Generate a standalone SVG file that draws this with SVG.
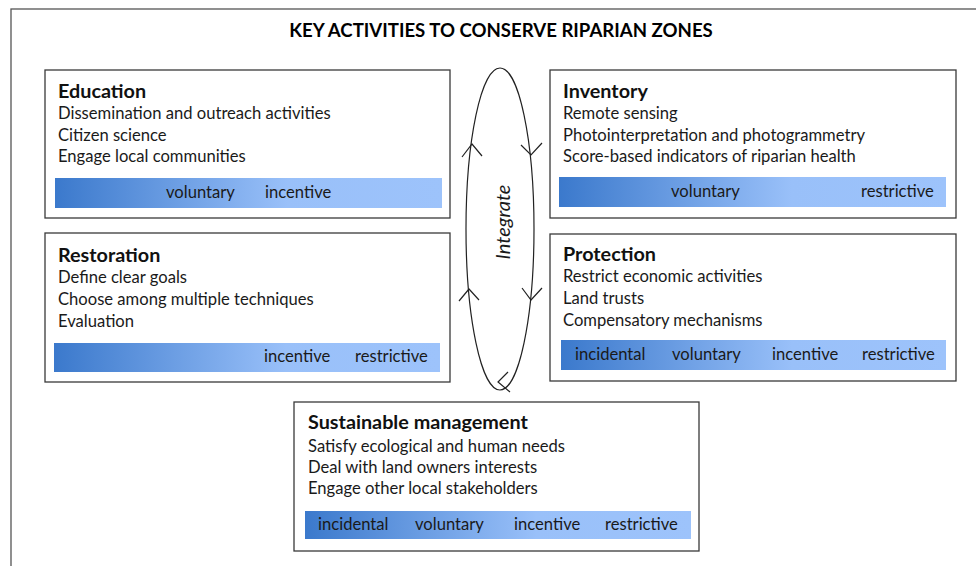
<svg xmlns="http://www.w3.org/2000/svg" width="976" height="566" viewBox="0 0 976 566">
<defs>
<linearGradient id="bar" x1="0" y1="0" x2="1" y2="0">
<stop offset="0" stop-color="#3b79cc"/>
<stop offset="0.6" stop-color="#99c0f9"/>
<stop offset="1" stop-color="#9dc3fb"/>
</linearGradient>
<style>
text{font-family:Lato,"Open Sans","Liberation Sans",sans-serif;fill:#1a1a1a}
.title{font-size:18.6px;font-weight:bold;fill:#000}
.box{fill:#fff;stroke:#3a3a3a;stroke-width:1.3}
.h{font-size:19.8px;font-weight:bold;fill:#111}
.t{font-size:16.6px}
.b{font-size:16.6px}
.bar{fill:url(#bar)}
.ln{fill:none;stroke:#222;stroke-width:1.2}
</style>
</defs>
<rect x="0" y="0" width="976" height="566" fill="#fff"/>
<rect x="11" y="9" width="975" height="570" fill="none" stroke="#555" stroke-width="1.3"/>
<text class="title" x="501" y="37" text-anchor="middle">KEY ACTIVITIES TO CONSERVE RIPARIAN ZONES</text>

<g id="connectors">
<ellipse class="ln" cx="500" cy="229" rx="34" ry="161"/>
<polyline class="ln" points="462,157 472,144 482,156"/>
<polyline class="ln" points="459,301 469,289 479,300"/>
<polyline class="ln" points="521,145 531,155 542,143"/>
<polyline class="ln" points="522,288 531,300 542,288"/>
<polyline class="ln" points="508,372 498,382 510,392"/>
<text x="504" y="222" font-size="20" font-style="italic" text-anchor="middle" transform="rotate(-90 504 222)" dy="6">Integrate</text>
</g>

<g id="education">
<rect class="box" x="45" y="70" width="405" height="148"/>
<text class="h" x="58" y="98">Education</text>
<text class="t" x="58" y="119">Dissemination and outreach activities</text>
<text class="t" x="58" y="141">Citizen science</text>
<text class="t" x="58" y="162">Engage local communities</text>
<rect class="bar" x="55" y="178" width="387" height="30"/>
<text class="b" x="166" y="198">voluntary</text>
<text class="b" x="265" y="198">incentive</text>
</g>

<g id="inventory">
<rect class="box" x="550" y="70" width="406" height="148"/>
<text class="h" x="563" y="98">Inventory</text>
<text class="t" x="563" y="119">Remote sensing</text>
<text class="t" x="563" y="141">Photointerpretation and photogrammetry</text>
<text class="t" x="563" y="162">Score-based indicators of riparian health</text>
<rect class="bar" x="559" y="177" width="387" height="30"/>
<text class="b" x="671" y="197">voluntary</text>
<text class="b" x="861" y="197">restrictive</text>
</g>

<g id="restoration">
<rect class="box" x="45" y="233" width="405" height="149"/>
<text class="h" x="58" y="262">Restoration</text>
<text class="t" x="58" y="283">Define clear goals</text>
<text class="t" x="58" y="305">Choose among multiple techniques</text>
<text class="t" x="58" y="327">Evaluation</text>
<rect class="bar" x="54" y="343" width="386" height="29"/>
<text class="b" x="264" y="362">incentive</text>
<text class="b" x="355" y="362">restrictive</text>
</g>

<g id="protection">
<rect class="box" x="550" y="234" width="406" height="147"/>
<text class="h" x="563" y="261">Protection</text>
<text class="t" x="563" y="282">Restrict economic activities</text>
<text class="t" x="563" y="304">Land trusts</text>
<text class="t" x="563" y="326">Compensatory mechanisms</text>
<rect class="bar" x="561" y="340" width="385" height="30"/>
<text class="b" x="575" y="360">incidental</text>
<text class="b" x="672" y="360">voluntary</text>
<text class="b" x="772" y="360">incentive</text>
<text class="b" x="862" y="360">restrictive</text>
</g>

<g id="sustainable">
<rect class="box" x="294" y="402" width="405" height="149"/>
<text class="h" x="308" y="429">Sustainable management</text>
<text class="t" x="308" y="452">Satisfy ecological and human needs</text>
<text class="t" x="308" y="473">Deal with land owners interests</text>
<text class="t" x="308" y="494">Engage other local stakeholders</text>
<rect class="bar" x="305" y="511" width="386" height="28"/>
<text class="b" x="318" y="530">incidental</text>
<text class="b" x="415" y="530">voluntary</text>
<text class="b" x="514" y="530">incentive</text>
<text class="b" x="605" y="530">restrictive</text>
</g>
</svg>
